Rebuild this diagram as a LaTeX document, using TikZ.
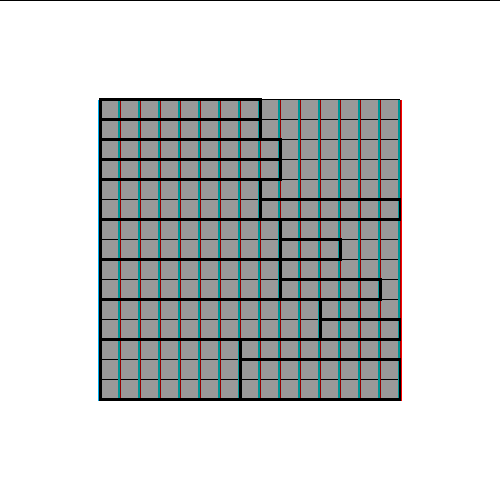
\documentclass[tikz,border=0pt]{standalone}
\definecolor{cellgray}{RGB}{153,153,153}
\definecolor{gridteal}{RGB}{0,150,150}
\definecolor{gridred}{RGB}{150,0,0}
\begin{document}
\begin{tikzpicture}[
    thinline/.style={line width=0.05cm},
    block/.style={draw=black, line width=0.15cm}
  ]
  \useasboundingbox (0,0) rectangle (25,25);
  \draw[line width=0.1cm] (0,25) -- (25,25);
  % sheet
  \fill[cellgray] (5,5) rectangle (20,20);
  \foreach \y in {5,...,20}
    \draw[thinline] (5,\y) -- (20,\y);
  \foreach \x in {5,...,20} {
    \draw[line width=0.04cm, gridred] (\x+0.02,5) -- (\x+0.02,20);
    \draw[line width=0.06cm, gridteal] (\x-0.05,5) -- (\x-0.05,20);
  }
  % packed pieces
  \foreach \xa/\ya/\xb/\yb in {5/20/13/19, 5/19/13/18, 5/18/14/17, 5/17/14/16,
      5/16/13/14, 13/15/20/14, 5/14/14/12, 5/12/14/10, 14/13/17/12,
      14/11/19/10, 5/10/16/8, 16/9/20/8, 5/8/12/5, 12/7/20/5}
    \draw[block] (\xa,\ya) rectangle (\xb,\yb);
  \draw[thinline, red] (20.05,20) -- (20.05,4.95);
  \draw[thinline, cyan] (4.9,20) -- (4.9,4.95);
\end{tikzpicture}
\end{document}
